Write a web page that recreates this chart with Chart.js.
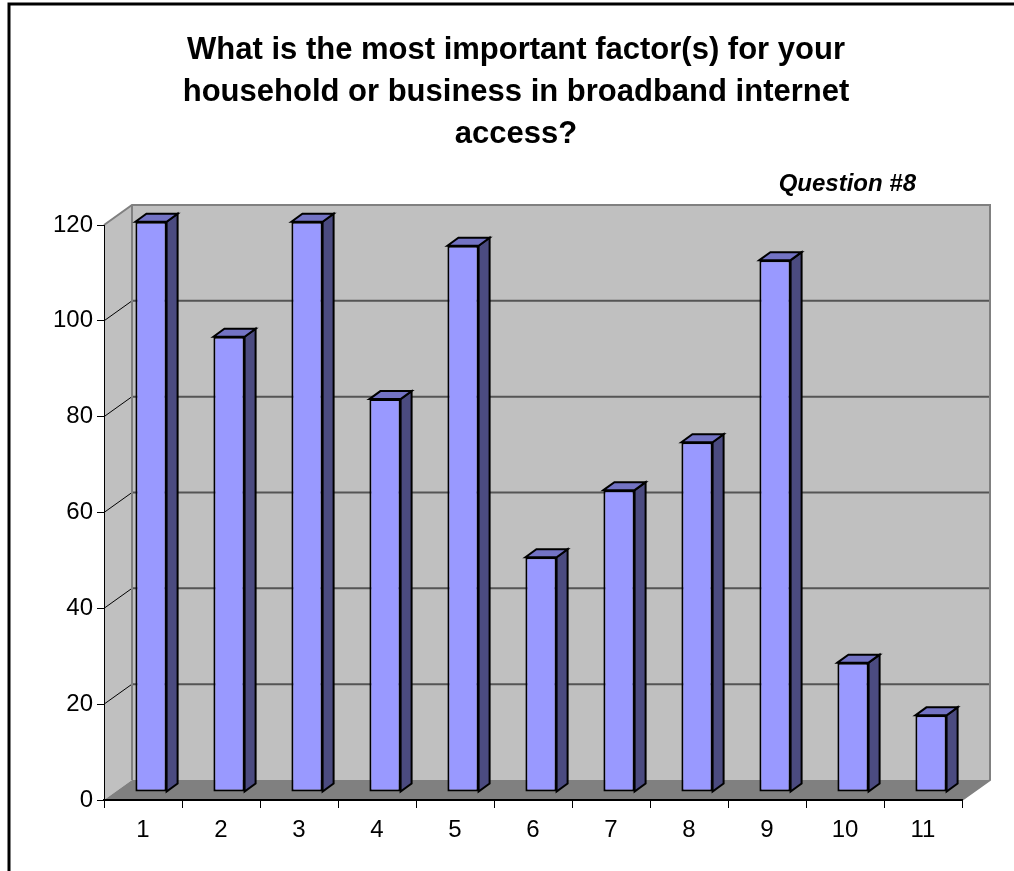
<!DOCTYPE html>
<html lang="en">
<head>
<meta charset="UTF-8">
<title>Question #8</title>
<script src="https://cdn.jsdelivr.net/npm/chart.js"></script>
<style>
  body { margin: 0; background: #fff; }
  #wrap { position: relative; width: 1014px; height: 871px; }
</style>
</head>
<body>
<div id="wrap"><canvas id="myChart"></canvas></div>
<script>
// data
const categories = ['1', '2', '3', '4', '5', '6', '7', '8', '9', '10', '11'];
const responses = [119, 95, 119, 82, 114, 49, 63, 73, 111, 27, 16];
const yTicks = [0, 20, 40, 60, 80, 100, 120];
const titleLines = [
  'What is the most important factor(s) for your',
  'household or business in broadband internet',
  'access?'
];
const questionLabel = 'Question #8';

// 3D look
const DX = 28, DY = 20;           // depth of floor and walls
const SHIFT_X = 8, SHIFT_Y = 8;   // bars sit a bit behind the front axis
const BAR_DX = 11, BAR_DY = 8;    // depth of each bar

function path(ctx, pts) {
  ctx.beginPath();
  ctx.moveTo(pts[0][0], pts[0][1]);
  for (let i = 1; i < pts.length; i++) ctx.lineTo(pts[i][0], pts[i][1]);
  ctx.closePath();
}

const walls = {
  id: 'walls',
  beforeDraw(chart) {
    const ctx = chart.ctx;
    const { left: L, right: R, top: T, bottom: B } = chart.chartArea;
    const y = chart.scales.y;
    ctx.save();
    ctx.fillStyle = '#fff';
    ctx.fillRect(0, 0, chart.width, chart.height);

    // frame
    ctx.strokeStyle = '#000';
    ctx.lineWidth = 3;
    ctx.beginPath();
    ctx.moveTo(9, chart.height);
    ctx.lineTo(9, 4);
    ctx.lineTo(chart.width, 4);
    ctx.stroke();

    // side wall, back wall, floor
    ctx.fillStyle = '#c0c0c0';
    path(ctx, [[L, T], [L + DX, T - DY], [L + DX, B - DY], [L, B]]);
    ctx.fill();
    ctx.fillRect(L + DX, T - DY, R - L, B - T);
    ctx.fillStyle = '#808080';
    path(ctx, [[L, B], [R, B], [R + DX, B - DY], [L + DX, B - DY]]);
    ctx.fill();

    // gridlines
    yTicks.forEach(v => {
      if (v === 0 || v === y.max) return;
      const py = y.getPixelForValue(v);
      ctx.strokeStyle = '#555';
      ctx.lineWidth = 2;
      ctx.beginPath();
      ctx.moveTo(L + DX, py - DY);
      ctx.lineTo(R + DX, py - DY);
      ctx.stroke();
      ctx.strokeStyle = '#000';
      ctx.lineWidth = 1;
      ctx.beginPath();
      ctx.moveTo(L, py);
      ctx.lineTo(L + DX, py - DY);
      ctx.stroke();
    });

    // wall edges
    ctx.strokeStyle = '#808080';
    ctx.lineWidth = 2;
    ctx.beginPath();
    ctx.moveTo(L, T);
    ctx.lineTo(L + DX, T - DY);
    ctx.lineTo(R + DX, T - DY);
    ctx.lineTo(R + DX, B - DY);
    ctx.lineTo(R, B);
    ctx.moveTo(L + DX, T - DY);
    ctx.lineTo(L + DX, B - DY);
    ctx.stroke();
    ctx.restore();
  },
  afterDraw(chart) {
    const ctx = chart.ctx;
    ctx.save();
    ctx.font = 'italic bold 24px Arial, "Liberation Sans", sans-serif';
    ctx.fillStyle = '#000';
    ctx.textAlign = 'right';
    ctx.textBaseline = 'alphabetic';
    ctx.fillText(questionLabel, 916, 191);
    ctx.restore();
  }
};

const bars3d = {
  id: 'bars3d',
  beforeDatasetsDraw(chart) {
    chart.ctx.save();
    chart.ctx.translate(SHIFT_X, -SHIFT_Y);
  },
  afterDatasetsDraw(chart) {
    const ctx = chart.ctx;
    ctx.lineWidth = 2;
    ctx.lineJoin = 'miter';
    ctx.strokeStyle = '#000';
    chart.getDatasetMeta(0).data.forEach(bar => {
      const { x, y, base, width } = bar.getProps(['x', 'y', 'base', 'width'], true);
      const l = x - width / 2, r = x + width / 2;
      // side
      ctx.fillStyle = '#4b4b80';
      path(ctx, [[r, y], [r + BAR_DX, y - BAR_DY], [r + BAR_DX, base - BAR_DY], [r, base]]);
      ctx.fill();
      ctx.stroke();
      // top
      ctx.fillStyle = '#7373c4';
      path(ctx, [[l, y], [l + BAR_DX, y - BAR_DY], [r + BAR_DX, y - BAR_DY], [r, y]]);
      ctx.fill();
      ctx.stroke();
    });
    ctx.restore();
  }
};

Chart.defaults.font.family = 'Arial, "Liberation Sans", sans-serif';
Chart.defaults.color = '#000';

const ctx = document.getElementById('myChart').getContext('2d');
new Chart(ctx, {
  type: 'bar',
  data: {
    labels: categories,
    datasets: [{
      label: 'Responses',
      data: responses,
      backgroundColor: '#9999ff',
      borderColor: '#000',
      borderWidth: 2,
      borderSkipped: false,
      barPercentage: 0.4,
      categoryPercentage: 1,
      clip: false
    }]
  },
  options: {
    responsive: true,
    maintainAspectRatio: false,
    animation: false,
    layout: { padding: { left: 18, right: 0, top: 0, bottom: 0 } },
    plugins: {
      legend: { display: false },
      tooltip: { enabled: false },
      title: {
        display: true,
        text: titleLines,
        color: '#000',
        font: { size: 31, weight: 'bold', lineHeight: 1.355 },
        padding: { top: 29, bottom: 70 }
      }
    },
    scales: {
      x: {
        offset: true,
        grid: { drawOnChartArea: false, tickLength: 8, color: '#000', offset: true },
        border: { color: '#000', width: 2 },
        ticks: { font: { size: 24 }, padding: 8, color: '#000' },
        afterFit(scale) { scale.height = 71; }
      },
      y: {
        min: 0,
        max: 120,
        ticks: { stepSize: 20, font: { size: 24 }, padding: 4, color: '#000' },
        grid: { drawOnChartArea: false, tickLength: 7, color: '#000' },
        border: { color: '#000', width: 1 },
        afterFit(scale) { scale.width = 86; }
      },
      // empty axis that only reserves the white space right of the floor
      spacer: {
        position: 'right',
        display: true,
        grid: { display: false },
        border: { display: false },
        ticks: { display: false },
        afterFit(scale) { scale.width = 52; }
      }
    }
  },
  plugins: [walls, bars3d]
});
</script>
</body>
</html>
